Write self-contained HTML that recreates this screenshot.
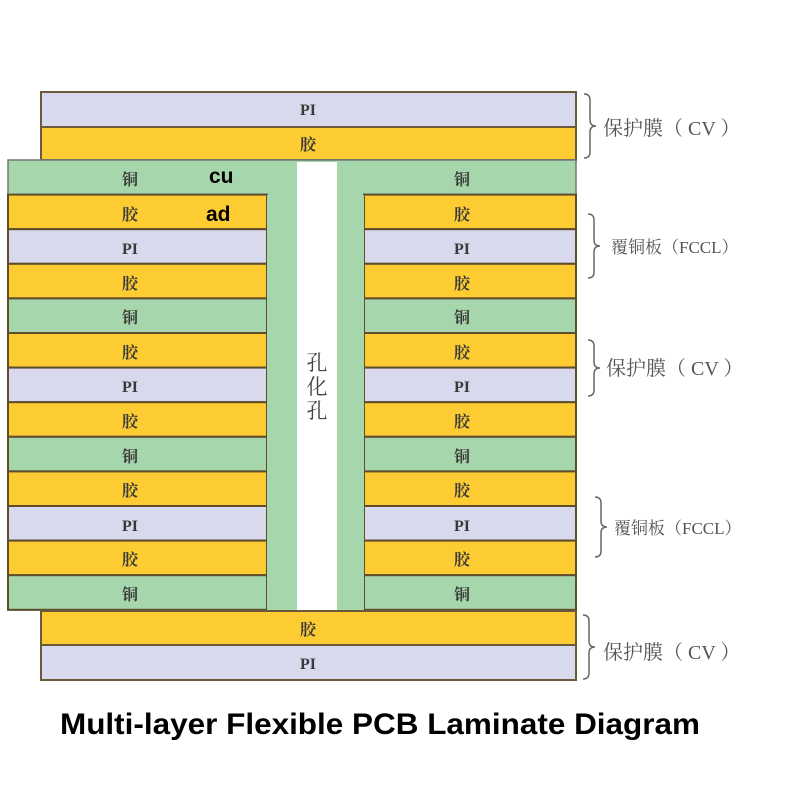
<!DOCTYPE html>
<html><head><meta charset="utf-8"><style>
body{margin:0;background:#fff;width:800px;height:800px;overflow:hidden}
svg text{font-family:"Liberation Serif","Noto Serif CJK SC",serif;font-weight:bold;fill:#3a3a3a}
</style></head><body>
<svg width="800" height="800" xmlns="http://www.w3.org/2000/svg">
<g stroke="#6b5a3a" stroke-width="2">
<rect x="41" y="92" width="535" height="35" fill="#d9d9ee"/>
<rect x="41" y="127" width="535" height="33" fill="#fdcc33"/>
</g>
<rect x="8" y="160" width="568" height="450" fill="#a6d6ab" stroke="#777" stroke-width="1.5"/>
<g stroke="#5e4c2c" stroke-width="2">
<rect x="8" y="194.6" width="259" height="34.6" fill="#fdcc33"/><rect x="364" y="194.6" width="212" height="34.6" fill="#fdcc33"/>
<rect x="8" y="229.2" width="259" height="34.6" fill="#d9d9ee"/><rect x="364" y="229.2" width="212" height="34.6" fill="#d9d9ee"/>
<rect x="8" y="263.8" width="259" height="34.6" fill="#fdcc33"/><rect x="364" y="263.8" width="212" height="34.6" fill="#fdcc33"/>
<rect x="8" y="298.4" width="259" height="34.6" fill="#a6d6ab"/><rect x="364" y="298.4" width="212" height="34.6" fill="#a6d6ab"/>
<rect x="8" y="333" width="259" height="34.6" fill="#fdcc33"/><rect x="364" y="333" width="212" height="34.6" fill="#fdcc33"/>
<rect x="8" y="367.6" width="259" height="34.6" fill="#d9d9ee"/><rect x="364" y="367.6" width="212" height="34.6" fill="#d9d9ee"/>
<rect x="8" y="402.2" width="259" height="34.6" fill="#fdcc33"/><rect x="364" y="402.2" width="212" height="34.6" fill="#fdcc33"/>
<rect x="8" y="436.8" width="259" height="34.6" fill="#a6d6ab"/><rect x="364" y="436.8" width="212" height="34.6" fill="#a6d6ab"/>
<rect x="8" y="471.4" width="259" height="34.6" fill="#fdcc33"/><rect x="364" y="471.4" width="212" height="34.6" fill="#fdcc33"/>
<rect x="8" y="506" width="259" height="34.6" fill="#d9d9ee"/><rect x="364" y="506" width="212" height="34.6" fill="#d9d9ee"/>
<rect x="8" y="540.6" width="259" height="34.6" fill="#fdcc33"/><rect x="364" y="540.6" width="212" height="34.6" fill="#fdcc33"/>
<rect x="8" y="575.2" width="259" height="34.6" fill="#a6d6ab"/><rect x="364" y="575.2" width="212" height="34.6" fill="#a6d6ab"/>
</g>
<rect x="267" y="195" width="30" height="415" fill="#a6d6ab"/>
<rect x="337" y="195" width="27" height="415" fill="#a6d6ab"/>
<rect x="297" y="162" width="40" height="448" fill="#fff"/>
<g stroke="#6b5a3a" stroke-width="2">
<rect x="41" y="611" width="535" height="34" fill="#fdcc33"/>
<rect x="41" y="645" width="535" height="35" fill="#d9d9ee"/>
</g>
<g font-size="16" text-anchor="middle">
<text x="308" y="115">PI</text><text x="308" y="150">胶</text>
<text x="130" y="185">铜</text><text x="462" y="185">铜</text>
<text x="130" y="220">胶</text><text x="462" y="220">胶</text>
<text x="130" y="254">PI</text><text x="462" y="254">PI</text>
<text x="130" y="289">胶</text><text x="462" y="289">胶</text>
<text x="130" y="323">铜</text><text x="462" y="323">铜</text>
<text x="130" y="358">胶</text><text x="462" y="358">胶</text>
<text x="130" y="392">PI</text><text x="462" y="392">PI</text>
<text x="130" y="427">胶</text><text x="462" y="427">胶</text>
<text x="130" y="462">铜</text><text x="462" y="462">铜</text>
<text x="130" y="496">胶</text><text x="462" y="496">胶</text>
<text x="130" y="531">PI</text><text x="462" y="531">PI</text>
<text x="130" y="565">胶</text><text x="462" y="565">胶</text>
<text x="130" y="600">铜</text><text x="462" y="600">铜</text>
<text x="308" y="635">胶</text><text x="308" y="669">PI</text>
</g>
<g font-size="21" text-anchor="middle">
<text x="317" y="370" style="font-weight:normal;fill:#444">孔</text>
<text x="317" y="394" style="font-weight:normal;fill:#444">化</text>
<text x="317" y="418" style="font-weight:normal;fill:#444">孔</text>
</g>
<g font-size="21">
<text x="209" y="183" style="fill:#000;font-family:'Liberation Sans',sans-serif">cu</text>
<text x="206" y="221" style="fill:#000;font-family:'Liberation Sans',sans-serif">ad</text>
</g>
<g fill="none" stroke="#666" stroke-width="1.5">
<path d="M584,94 q6,0 6,6 v20 q0,6 6,6 q-6,0 -6,6 v20 q0,6 -6,6"/>
<path d="M588,214 q6,0 6,6 v20 q0,6 6,6 q-6,0 -6,6 v20 q0,6 -6,6"/>
<path d="M588,340 q6,0 6,6 v16 q0,6 6,6 q-6,0 -6,6 v16 q0,6 -6,6"/>
<path d="M595,497 q6,0 6,6 v18 q0,6 6,6 q-6,0 -6,6 v18 q0,6 -6,6"/>
<path d="M583,615 q6,0 6,6 v20 q0,6 6,6 q-6,0 -6,6 v20 q0,6 -6,6"/>
</g>
<g font-size="20">
<text x="603" y="135" style="font-weight:normal;fill:#555">保护膜（ CV ）</text>
<text x="611" y="253" font-size="17" style="font-weight:normal;fill:#555">覆铜板（FCCL）</text>
<text x="606" y="375" style="font-weight:normal;fill:#555">保护膜（ CV ）</text>
<text x="614" y="534" font-size="17" style="font-weight:normal;fill:#555">覆铜板（FCCL）</text>
<text x="603" y="659" style="font-weight:normal;fill:#555">保护膜（ CV ）</text>
</g>
<text x="380" y="734" text-anchor="middle" font-size="30" textLength="640" lengthAdjust="spacingAndGlyphs" style="font-family:'Liberation Sans',sans-serif;font-weight:bold;fill:#000">Multi-layer Flexible PCB Laminate Diagram</text>
</svg>
</body></html>
